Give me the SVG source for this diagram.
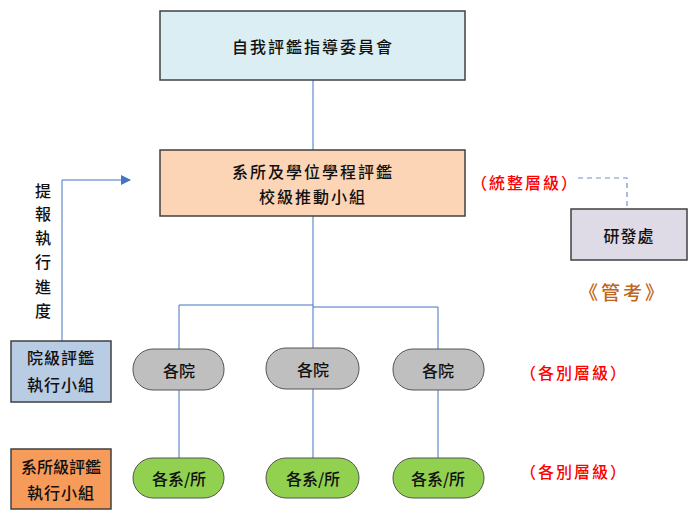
<svg xmlns="http://www.w3.org/2000/svg" width="700" height="513" viewBox="0 0 700 513">
<defs>
<style>
text{font-family:"Noto Sans CJK TC","Noto Sans CJK SC",sans-serif;font-size:16px;fill:#111;text-anchor:middle;dominant-baseline:central;font-weight:500}
.box{stroke:#404040;stroke-width:1.5}
.pill{stroke:#555;stroke-width:1}
.ln{stroke:#4472C4;stroke-width:1;fill:none}
.red{fill:#FF0000;letter-spacing:2px}
</style>
<marker id="ah" viewBox="0 0 10 10" refX="9" refY="5" markerWidth="10" markerHeight="10" markerUnits="userSpaceOnUse" orient="auto"><path d="M0,0L10,5L0,10z" fill="#4472C4"/></marker>
</defs>
<g id="connectors">
<path class="ln" d="M313,80V150"/>
<path class="ln" d="M313,216V348"/>
<path class="ln" d="M313,305H179V349"/>
<path class="ln" d="M313,307H438V349"/>
<path class="ln" d="M179,390V458"/>
<path class="ln" d="M313,389V458"/>
<path class="ln" d="M438,390V458"/>
<path class="ln" d="M62,341V180H130" marker-end="url(#ah)" stroke-width="1.3"/>
<path d="M578,178H627V209" fill="none" stroke="#6F8FCF" stroke-width="1.2" stroke-dasharray="5,4"/>
</g>
<g id="committee"><rect class="box" x="160" y="11" width="305" height="69" fill="#DAEEF3"/><text x="313" y="46" letter-spacing="2">自我評鑑指導委員會</text></g>
<g id="school"><rect class="box" x="160" y="150" width="305" height="66" fill="#FBD5B5"/><text x="313" y="171" letter-spacing="2">系所及學位學程評鑑</text><text x="313" y="196" letter-spacing="2">校級推動小組</text></g>
<g id="rd"><rect class="box" x="571" y="209" width="116" height="51" fill="#DEDAE6"/><text x="629" y="235" letter-spacing="1">研發處</text></g>
<g id="col1"><rect class="box" x="11" y="341" width="100" height="61" fill="#B8CCE4"/><text x="61" y="357" letter-spacing="1">院級評鑑</text><text x="61" y="384" letter-spacing="1">執行小組</text></g>
<g id="dep1"><rect class="box" x="11" y="449" width="100" height="60" fill="#F79B5A"/><text x="61" y="466">系所級評鑑</text><text x="61" y="492" letter-spacing="1">執行小組</text></g>
<g id="c1"><rect class="pill" x="133" y="349" width="91" height="41" rx="20" fill="#BFBFBF"/><text x="179" y="370">各院</text></g>
<g id="c2"><rect class="pill" x="266" y="348" width="93" height="41" rx="20" fill="#BFBFBF"/><text x="313" y="369">各院</text></g>
<g id="c3"><rect class="pill" x="393" y="349" width="91" height="41" rx="20" fill="#BFBFBF"/><text x="438" y="370">各院</text></g>
<g id="d1"><rect class="pill" x="133" y="458" width="91" height="40" rx="20" fill="#92D050"/><text x="179" y="478">各系/所</text></g>
<g id="d2"><rect class="pill" x="266" y="458" width="93" height="40" rx="20" fill="#92D050"/><text x="313" y="478">各系/所</text></g>
<g id="d3"><rect class="pill" x="393" y="458" width="91" height="40" rx="20" fill="#92D050"/><text x="438" y="478">各系/所</text></g>
<g id="labels">
<text class="red" x="525" y="182">（統整層級）</text>
<text x="623" y="291" style="fill:#C0651A;font-size:19px;letter-spacing:3px">《管考》</text>
<text class="red" x="574" y="372">（各別層級）</text>
<text class="red" x="574" y="471">（各別層級）</text>
<text x="43" y="190">提</text><text x="43" y="213">報</text><text x="43" y="237">執</text><text x="43" y="261">行</text><text x="43" y="286">進</text><text x="43" y="310">度</text>
</g>
</svg>
